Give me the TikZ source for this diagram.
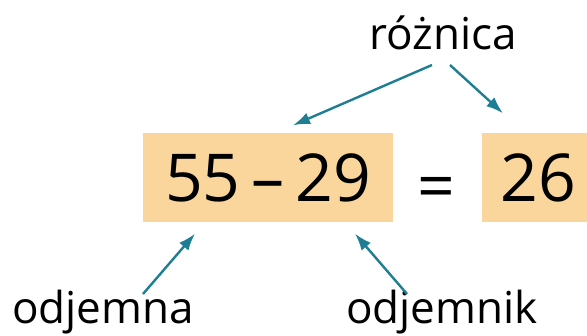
\documentclass[tikz,border=0pt]{standalone}
\usepackage{fontspec}
\setmainfont{Open Sans}
\usetikzlibrary{arrows.meta, positioning}
\definecolor{boxfill}{HTML}{FAD69C}
\definecolor{arrowteal}{HTML}{1E7E93}
\tikzset{
      num box/.style={
		fill=boxfill,
		minimum height=89pt,
		inner sep=0pt,
		font=\fontsize{66}{70}\selectfont,
	  },
  		term/.style={
    	font=\fontsize{44}{48}\selectfont,
    	inner sep=0pt,
    	anchor=base,
      },
      pointer/.style={
		draw=arrowteal,
		line width=2.4pt,
		-{Latex[length=17pt, width=12pt]},
	  }
  	}

\begin{document}
\begin{tikzpicture}[x=1pt, y=-1pt]
    \useasboundingbox (0,0) rectangle (587,336);
    % boxes with the numbers
    \node [num box, minimum width=250pt] (diff) at (268,178) {55\,–\,29};
    \node [num box, minimum width=112pt] (result) at (538,178) {26};
    \node [font=\fontsize{66}{70}\selectfont, inner sep=0pt, anchor=base] (eq) at (436,210) {=};
    % names
    \node [term] (roznica) at (443,50) {różnica};
    \node [term] (odjemna) at (103,324) {odjemna};
    \node [term] (odjemnik) at (442,324) {odjemnik};
    % arrows
    \draw [pointer] ([shift={(-11,15)}]roznica.base) -- ([shift={(25,-8)}]diff.north);
    \draw [pointer] ([shift={(7,15)}]roznica.base) -- ([shift={(-35,-20)}]result.north);
    \draw [pointer] ([shift={(40,-30)}]odjemna.base) -- ([shift={(-73,11)}]diff.south);
    \draw [pointer] ([shift={(-35,-30)}]odjemnik.base) -- ([shift={(87,11)}]diff.south);
  \end{tikzpicture}
\end{document}
